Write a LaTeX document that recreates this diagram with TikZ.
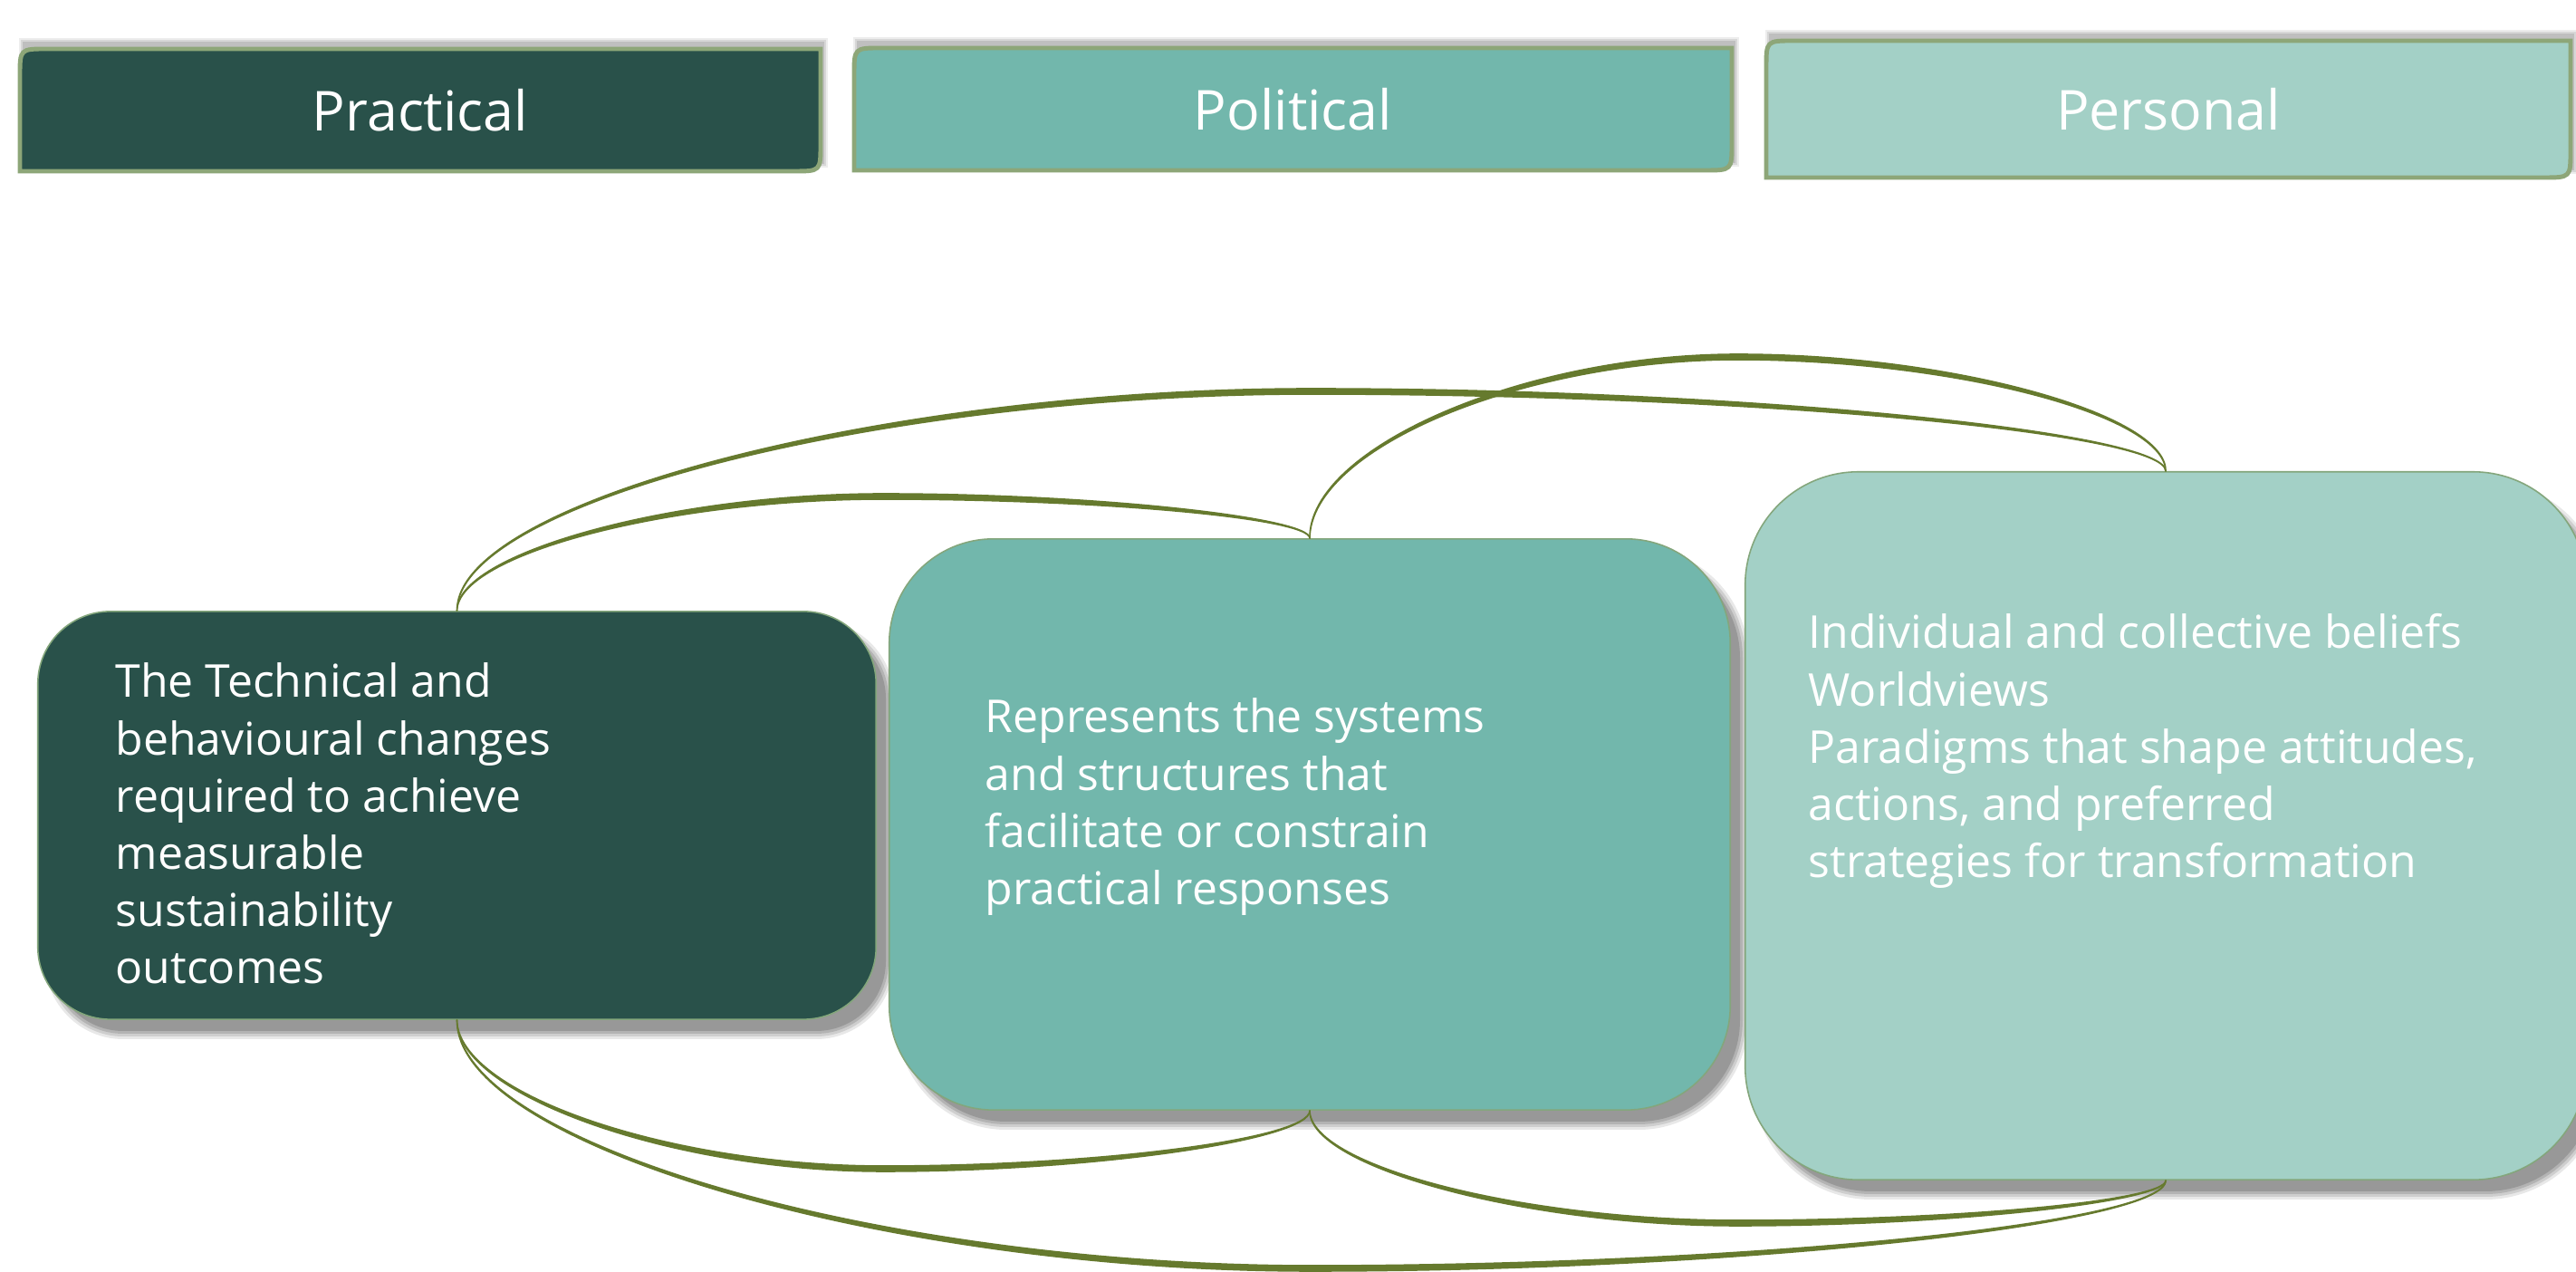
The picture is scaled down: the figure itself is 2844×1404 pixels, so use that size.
\documentclass[tikz,border=0pt]{standalone}
\usepackage{fontspec}
\setmainfont{Open Sans}
\usetikzlibrary{calc}

\definecolor{practicalfill}{RGB}{41,81,74}
\definecolor{politicalfill}{RGB}{114,183,172}
\definecolor{personalfill}{RGB}{163,208,198}
\definecolor{headerrim}{RGB}{141,166,120}
\definecolor{boxrim}{RGB}{132,166,124}
\definecolor{linkgreen}{RGB}{102,122,46}

% Header tab from (x1,y1) to (x2,y2): rounded top-left and bottom-right corners only
\newcommand\headertab[5]{%
  \foreach \s/\o in {4/0.07,2/0.09,0/0.11}
    \fill[black, opacity=\o] (#1+3-\s,#2-8-\s) rectangle (#3+4+\s,#4-8+\s);
  \path[hdrframe, fill=#5] (#1,#4) -- (#1,#2+30) .. controls (#1,#2) .. (#1+30,#2)
    -- (#3,#2) -- (#3,#4-30) .. controls (#3,#4) .. (#3-30,#4) -- cycle;}

% Soft drop shadow behind a rounded panel: centre x, centre y, width, height, corner radius
\newcommand\panelshadow[5]{%
  \foreach \s/\o in {6/0.09,3/0.11,0/0.13,-3/0.15}
    \fill[black, opacity=\o, rounded corners={(#5+\s)*0.01cm}]
      (#1-#3/2+14-\s,#2-#4/2+16-\s) rectangle (#1+#3/2+14+\s,#2+#4/2+16+\s);}

% Tapered curved connector: start, c1, c2, apex, c3, c4, end, outward sign (-1 up, +1 down)
\newcommand\taperlink[8]{%
  \path[link]
    (#1) .. controls ($(#2)+(-1.4,0)$) and ($(#3)+(0,#8*3)$) .. ($(#4)+(0,#8*3)$)
         .. controls ($(#5)+(0,#8*3)$) and ($(#6)+(1.4,0)$) .. (#7)
         .. controls ($(#6)+(-1.4,0)$) and ($(#5)+(0,#8*-3)$) .. ($(#4)+(0,#8*-3)$)
         .. controls ($(#3)+(0,#8*-3)$) and ($(#2)+(1.4,0)$) .. (#1) -- cycle;}

\begin{document}
\begin{tikzpicture}[x=0.01cm, y=-0.01cm,
  hdrtext/.style={text=white, inner sep=0pt, font=\fontsize{17.3}{21}\selectfont},
  hdrframe/.style={draw=headerrim, line width=1.4pt},
  panel/.style={draw=boxrim, line width=0.45pt, inner sep=0pt},
  bodytext/.style={text=white, inner sep=0pt, anchor=base west, font=\fontsize{14.2}{17.93}\selectfont},
  link/.style={fill=linkgreen, draw=linkgreen, line width=0.45pt, line join=round}
]
\useasboundingbox (0,0) rectangle (2844,1404);
\fill[white] (0,0) rectangle (2844,1404);

% Header tabs
\headertab{22}{54}{906}{189}{practicalfill}
\headertab{943}{53}{1912}{188}{politicalfill}
\headertab{1950}{45}{2838}{196}{personalfill}
\node[hdrtext] (h1) at (464,122) {Practical};
\node[hdrtext] (h2) at (1427.5,121) {Political};
\node[hdrtext] (h3) at (2394,121) {Personal};

% Content panels
\panelshadow{504.5}{900}{925}{450}{80}
\node[panel, fill=practicalfill, minimum width=9.25cm, minimum height=4.5cm, rounded corners=0.8cm] (p1) at (504.5,900) {};
\panelshadow{1446}{910}{928}{630}{115}
\node[panel, fill=politicalfill, minimum width=9.28cm, minimum height=6.3cm, rounded corners=1.15cm] (p2) at (1446,910) {};
\panelshadow{2391}{911.5}{928}{781}{125}
\node[panel, fill=personalfill, minimum width=9.28cm, minimum height=7.81cm, rounded corners=1.25cm] (p3) at (2391,911.5) {};

\node[bodytext] (t1) at (127,770) {\parbox[t]{9cm}{\raggedright The Technical and\\behavioural changes\\required to achieve\\measurable\\sustainability\\outcomes}};
\node[bodytext] (t2) at (1087,809) {\parbox[t]{9cm}{\raggedright Represents the systems\\and structures that\\facilitate or constrain\\practical responses}};
\node[bodytext] (t3) at (1996,716) {\parbox[t]{9cm}{\raggedright Individual and collective beliefs\\Worldviews\\Paradigms that shape attitudes,\\actions, and preferred\\strategies for transformation}};

% Connectors over the tops
\taperlink{p1.north}{504.5,611.5}{739.5,548}{975,548}{1210.5,548}{1446,571.5}{p2.north}{-1}
\taperlink{p1.north}{504.5,553.5}{976,432}{1447.75,432}{1919.4,432}{2391,476.5}{p3.north}{-1}
\taperlink{p2.north}{1446,494.5}{1682.25,394}{1918.5,394}{2154.75,394}{2391,457.5}{p3.north}{-1}

% Connectors under the bottoms
\taperlink{p1.south}{504.5,1207.5}{739.9,1290}{975.25,1290}{1210.6,1290}{1446,1257.5}{p2.south}{1}
\taperlink{p1.south}{504.5,1262.5}{976,1400}{1447.75,1400}{1919.4,1400}{2391,1351}{p3.south}{1}
\taperlink{p2.south}{1446,1287.5}{1682.25,1350}{1918.5,1350}{2154.75,1350}{2391,1326}{p3.south}{1}
\end{tikzpicture}
\end{document}
